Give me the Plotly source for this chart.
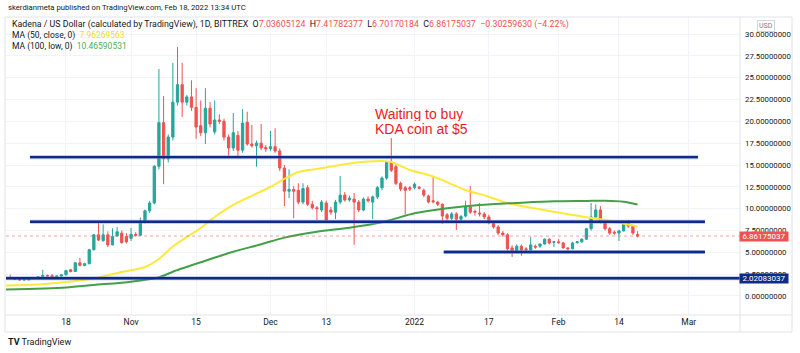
import pandas as pd
import plotly.graph_objects as go

# ---------------- data ----------------
dates = pd.date_range("2021-10-05", "2022-02-18", freq="D").strftime("%Y-%m-%d").tolist()

opens = [2.00, 2.08, 2.00, 1.93, 1.84, 1.84, 1.98, 2.04, 2.20, 2.35, 2.32, 2.18, 2.28,
         2.42, 3.00, 2.80, 3.80, 3.50, 3.70, 5.30, 7.00, 6.35, 7.00, 5.85, 6.87, 7.20, 6.80,
         6.60, 7.05, 6.95, 8.50, 9.75, 10.65, 14.85, 19.85, 15.70, 18.20, 22.20, 24.20, 22.20,
         22.80, 21.60, 19.50, 18.70, 21.50, 18.80, 20.15, 20.00, 18.20, 16.95, 18.40, 16.70,
         19.90, 17.40, 17.20, 17.50, 17.00, 16.85, 17.10, 16.60, 14.65, 12.00, 12.20, 12.10,
         10.75, 12.40, 10.50, 10.10, 9.85, 10.65, 9.85, 9.60, 10.75, 11.55, 11.00, 11.10,
         10.75, 9.85, 11.10, 10.75, 11.35, 12.40, 13.50, 15.30, 14.80, 12.90, 12.40, 12.40,
         12.40, 12.45, 12.10, 11.45, 10.90, 10.75, 10.50, 9.30, 8.90, 9.40, 8.80, 9.15, 10.20,
         9.70, 9.50, 9.40, 9.05, 8.35, 7.90, 7.20, 7.00, 5.50, 5.04, 5.70, 5.40, 5.27, 5.70,
         5.70, 5.95, 6.50, 6.15, 6.20, 6.07, 5.50, 5.40, 6.10, 6.20, 6.50, 7.70, 9.05, 9.85,
         8.50, 7.70, 7.30, 7.20, 7.45, 8.50, 8.00, 7.036]
highs = [2.15, 2.45, 2.10, 2.00, 1.95, 2.05, 2.10, 2.25, 3.00, 2.45, 2.50, 2.35, 2.50,
         3.00, 3.10, 3.90, 4.35, 3.80, 5.40, 7.10, 8.40, 8.20, 7.40, 7.75, 7.90, 7.50, 7.20,
         7.80, 7.30, 9.00, 9.90, 10.90, 15.00, 26.00, 22.90, 18.50, 26.70, 28.50, 26.70, 23.00,
         24.70, 23.80, 22.40, 23.80, 22.20, 22.40, 20.80, 20.30, 18.50, 20.95, 18.90, 21.40,
         21.10, 19.60, 17.80, 19.70, 17.30, 18.90, 19.20, 16.90, 15.00, 14.50, 12.60, 12.90,
         12.90, 12.70, 10.90, 10.30, 11.00, 10.90, 10.20, 11.00, 13.75, 11.90, 11.50, 11.80,
         11.00, 11.30, 11.40, 11.50, 12.60, 13.70, 15.40, 18.10, 15.20, 13.10, 12.60, 12.60,
         13.00, 12.60, 12.30, 11.60, 13.75, 10.90, 10.60, 9.50, 9.60, 9.60, 9.30, 10.90, 12.60,
         9.90, 10.65, 9.60, 9.30, 8.60, 8.10, 7.45, 7.20, 5.80, 5.90, 5.90, 5.60, 6.75, 5.90,
         6.00, 6.60, 6.60, 6.30, 6.50, 6.20, 5.60, 6.20, 6.30, 6.60, 7.80, 10.65, 10.50,
         10.30, 8.80, 7.90, 7.50, 7.60, 8.60, 8.70, 8.10, 7.418]
lows = [1.90, 1.95, 1.85, 1.78, 1.78, 1.80, 1.92, 2.00, 2.15, 2.20, 2.12, 2.12, 2.22,
        2.35, 2.70, 2.75, 3.40, 3.40, 3.60, 5.20, 6.30, 6.20, 5.60, 5.80, 6.80, 6.00, 6.00,
        6.30, 6.80, 6.90, 8.30, 9.50, 10.50, 14.50, 12.80, 15.30, 17.80, 21.80, 20.50, 21.80,
        21.20, 18.00, 18.30, 17.40, 19.30, 18.50, 19.70, 17.80, 15.90, 16.60, 15.90, 16.40,
        17.20, 17.00, 14.80, 16.70, 16.50, 16.60, 16.40, 14.30, 10.30, 11.20, 8.90, 10.50,
        10.50, 10.30, 9.90, 8.70, 9.60, 8.60, 9.30, 8.80, 10.50, 10.80, 10.80, 5.85,
        9.60, 9.70, 10.70, 8.80, 11.10, 12.10, 13.30, 14.20, 12.70, 12.00, 9.30, 12.00,
        12.20, 12.20, 11.30, 10.60, 10.60, 10.30, 8.25, 8.60, 8.70, 7.55, 8.60, 9.00, 9.40,
        9.20, 9.10, 8.80, 8.20, 7.70, 7.00, 6.80, 5.20, 4.47, 4.90, 4.60, 5.10, 5.20, 5.40,
        5.50, 5.90, 5.90, 5.60, 6.00, 5.45, 5.20, 5.35, 6.00, 6.10, 6.40, 7.50, 8.90,
        8.30, 7.50, 7.00, 7.00, 6.30, 7.40, 7.80, 7.00, 6.702]
closes = [2.08, 2.00, 1.93, 1.84, 1.86, 1.98, 2.04, 2.20, 2.35, 2.28, 2.18, 2.28, 2.42,
          2.90, 2.80, 3.80, 3.50, 3.70, 5.30, 7.00, 6.40, 7.00, 5.85, 6.80, 7.35, 6.10, 6.20,
          7.05, 6.95, 8.50, 9.75, 10.65, 14.85, 19.85, 15.70, 18.20, 22.20, 24.20, 22.20, 22.80,
          21.60, 19.35, 18.70, 21.50, 19.70, 20.15, 20.00, 18.20, 16.95, 18.70, 16.70, 19.80,
          17.40, 17.20, 17.50, 16.95, 16.85, 17.10, 16.60, 14.65, 12.00, 12.20, 12.00, 10.75,
          12.30, 10.50, 10.10, 10.00, 10.75, 8.70, 9.60, 10.75, 11.55, 11.00, 11.20, 10.75,
          9.85, 11.10, 10.90, 11.35, 12.40, 13.50, 15.30, 14.40, 12.90, 12.25, 12.10, 12.25,
          12.80, 12.35, 11.55, 10.75, 10.80, 10.50, 9.15, 8.90, 9.40, 8.80, 9.10, 10.20, 9.60,
          9.60, 9.40, 9.05, 8.35, 7.90, 7.20, 7.00, 5.40, 5.04, 5.70, 5.27, 5.30, 5.85, 5.60,
          5.95, 6.50, 6.07, 6.20, 6.10, 5.50, 5.40, 6.07, 6.20, 6.50, 7.70, 9.05, 9.85,
          8.50, 7.70, 7.20, 7.20, 7.45, 8.50, 8.00, 7.20, 6.862]

ma50_dates = ["2021-10-05", "2021-10-12", "2021-10-18", "2021-10-24", "2021-10-30", "2021-11-04",
              "2021-11-07", "2021-11-10", "2021-11-16", "2021-11-19", "2021-11-23", "2021-11-26",
              "2021-12-01", "2021-12-04", "2021-12-07", "2021-12-11", "2021-12-14", "2021-12-18",
              "2021-12-22", "2021-12-25", "2021-12-27", "2021-12-31", "2022-01-05", "2022-01-12",
              "2022-01-17", "2022-01-21", "2022-01-28", "2022-02-04", "2022-02-11", "2022-02-18"]
ma50_vals = [1.20, 1.32, 1.60, 2.00, 2.75, 3.32, 4.24, 5.67, 7.79, 9.05, 10.42, 11.22,
             12.48, 13.40, 14.20, 14.54, 14.83, 15.17, 15.40, 15.46, 15.34, 14.43, 13.68, 12.14,
             11.37, 10.65, 9.93, 9.27, 8.70, 7.96]

ma100_dates = ["2021-10-05", "2021-10-18", "2021-10-24", "2021-11-01", "2021-11-07", "2021-11-10",
               "2021-11-16", "2021-11-23", "2021-11-29", "2021-12-04", "2021-12-11", "2021-12-18",
               "2021-12-25", "2022-01-01", "2022-01-08", "2022-01-15", "2022-01-24", "2022-01-31",
               "2022-02-07", "2022-02-11", "2022-02-15", "2022-02-18"]
ma100_vals = [0.74, 0.97, 1.26, 1.64, 2.14, 2.78, 3.86, 5.07, 5.92, 6.68, 7.36, 7.82,
              8.44, 9.47, 10.04, 10.42, 10.68, 10.84, 10.88, 10.91, 10.80, 10.47]

# drawn support levels: value, start date, end date (None = full width)
level_values = [15.9, 8.5, 5.04, 2.02083037]
level_starts = ["2021-10-10 06:00", "2021-10-10 06:00", "2022-01-07 07:00", None]
level_ends = ["2022-03-03 00:00", "2022-03-04 12:00", "2022-03-04 12:00", None]

last_price = 6.86175037

y_ticks = [i * 2.5 for i in range(13)]
x_tick_vals = ["2021-10-18", "2021-11-01", "2021-11-15", "2021-12-01", "2021-12-13",
               "2022-01-01", "2022-01-17", "2022-02-01", "2022-02-14", "2022-03-01"]
x_tick_text = ["18", "Nov", "15", "Dec", "13", "2022", "17", "Feb", "14", "Mar"]

# ---------------- layout geometry ----------------
W, H = 800, 353
L, R, T, B = 6, 740, 17, 315
PW, PH = R - L, B - T


def px(x):
    return (x - L) / PW


def py(y):
    return (B - y) / PH


GREEN = "#26a69a"
RED = "#ef5350"
NAVY = "#0f2b8a"
FONT = "Roboto"
TXT = "#131722"

fig = go.Figure()
fig.add_trace(go.Candlestick(
    x=dates, open=opens, high=highs, low=lows, close=closes,
    increasing=dict(line=dict(color=GREEN, width=1), fillcolor=GREEN),
    decreasing=dict(line=dict(color=RED, width=1), fillcolor=RED),
    whiskerwidth=0, showlegend=False, hoverinfo="skip"))
fig.add_trace(go.Scatter(x=ma50_dates, y=ma50_vals, mode="lines",
                         line=dict(color="#fde93a", width=2, shape="spline", smoothing=0.8),
                         showlegend=False, hoverinfo="skip"))
fig.add_trace(go.Scatter(x=ma100_dates, y=ma100_vals, mode="lines",
                         line=dict(color="#43a047", width=2, shape="spline", smoothing=0.8),
                         showlegend=False, hoverinfo="skip"))

shapes = []
# last price dotted line
shapes.append(dict(type="line", xref="paper", yref="y", x0=0, x1=1, y0=last_price, y1=last_price,
                   line=dict(color="rgba(239,83,80,0.55)", width=1, dash="dot")))
for v, s, e in zip(level_values, level_starts, level_ends):
    if s is None:
        x0, x1, xr = 0, 1, "paper"
    else:
        x0, x1, xr = s, e, "x"
    shapes.append(dict(type="line", xref=xr, yref="y", x0=x0, x1=x1, y0=v, y1=v,
                       line=dict(color="rgba(120,140,200,0.55)", width=4)))
    shapes.append(dict(type="line", xref=xr, yref="y", x0=x0, x1=x1, y0=v, y1=v,
                       line=dict(color=NAVY, width=2.4)))
# frame
shapes.append(dict(type="rect", xref="paper", yref="paper", x0=px(5), x1=px(792), y0=py(332), y1=py(17),
                   line=dict(color="#e0e3eb", width=1)))
shapes.append(dict(type="line", xref="paper", yref="paper", x0=1, x1=1, y0=py(332), y1=py(17),
                   line=dict(color="#e0e3eb", width=1)))
shapes.append(dict(type="line", xref="paper", yref="paper", x0=px(5), x1=px(792), y0=0, y1=0,
                   line=dict(color="#e0e3eb", width=1)))

ann = []
ann.append(dict(xref="paper", yref="paper", x=px(6), y=py(8), xanchor="left", yanchor="middle",
                text="skerdianmeta published on TradingView.com, Feb 18, 2022 13:34 UTC",
                showarrow=False, font=dict(family=FONT, size=7.7, color=TXT)))
rs = f"<span style='color:{RED}'>"
line1 = ("Kadena / US Dollar (calculated by TradingView), 1D, BITTREX  "
         f"O{rs}7.03605124</span>  H{rs}7.41782377</span>  L{rs}6.70170184</span>  "
         f"C{rs}6.86175037</span>  {rs}−0.30259630 (−4.22%)</span>")
ann.append(dict(xref="paper", yref="paper", x=px(10), y=py(25), xanchor="left", yanchor="middle",
                text=line1, showarrow=False, font=dict(family=FONT, size=8.8, color=TXT)))
ann.append(dict(xref="paper", yref="paper", x=px(10), y=py(36), xanchor="left", yanchor="middle",
                text="MA (50, close, 0)  <span style='color:#f5dc22'>7.96269563</span>",
                showarrow=False, font=dict(family=FONT, size=8.5, color=TXT)))
ann.append(dict(xref="paper", yref="paper", x=px(10), y=py(47), xanchor="left", yanchor="middle",
                text="MA (100, low, 0)  <span style='color:#4caf50'>10.46590531</span>",
                showarrow=False, font=dict(family=FONT, size=8.5, color=TXT)))
# note
ann.append(dict(xref="x", yref="y", x="2021-12-23 02:00", y=20.8, xanchor="left", yanchor="middle",
                text="Waiting to buy", showarrow=False, height=14,
                font=dict(family="Liberation Sans", size=14, color="#ee1c1c")))
ann.append(dict(xref="x", yref="y", x="2021-12-23 02:00", y=19.15, xanchor="left", yanchor="middle",
                text="KDA coin at $5", showarrow=False, height=14,
                font=dict(family="Liberation Sans", size=14, color="#ee1c1c")))
# price axis labels
ann.append(dict(xref="paper", yref="y", x=px(739), y=last_price, xanchor="left", yanchor="middle",
                text="6.86175037", showarrow=False, bgcolor=RED, width=48, height=9, borderpad=0,
                font=dict(family=FONT, size=8, color="white")))
ann.append(dict(xref="paper", yref="y", x=px(739), y=level_values[3], xanchor="left", yanchor="middle",
                text="2.02083037", showarrow=False, bgcolor=NAVY, width=48, height=9, borderpad=0,
                font=dict(family=FONT, size=8, color="white")))
ann.append(dict(xref="paper", yref="paper", x=px(766), y=py(26), xanchor="center", yanchor="middle",
                text="USD", showarrow=False, bgcolor="white", bordercolor="#d1d4dc", borderwidth=1,
                borderpad=1, font=dict(family=FONT, size=7, color="#787b86")))
ann.append(dict(xref="paper", yref="paper", x=px(6), y=py(342), xanchor="left", yanchor="middle",
                text="<b>TV</b> TradingView", showarrow=False,
                font=dict(family=FONT, size=9, color=TXT)))

fig.update_layout(
    width=W, height=H, margin=dict(l=L, r=W - R, t=T, b=H - B),
    paper_bgcolor="white", plot_bgcolor="white",
    shapes=shapes, annotations=ann, showlegend=False,
    xaxis=dict(type="date", range=["2021-10-05 02:10", "2022-03-12 01:00"],
               tickvals=x_tick_vals, ticktext=x_tick_text, showgrid=True, gridcolor="#f0f3fa",
               showline=False, zeroline=False, ticks="", rangeslider=dict(visible=False),
               tickfont=dict(family=FONT, size=8.5, color=TXT)),
    yaxis=dict(side="right", range=[-2.18, 31.95], tickvals=y_ticks,
               ticktext=[f"{v:.8f}" for v in y_ticks], showgrid=True, gridcolor="#f0f3fa",
               zeroline=False, showline=False, ticks="", ticklabelstandoff=4,
               tickfont=dict(family=FONT, size=7.8, color=TXT)),
)

fig.write_html("out.html")
